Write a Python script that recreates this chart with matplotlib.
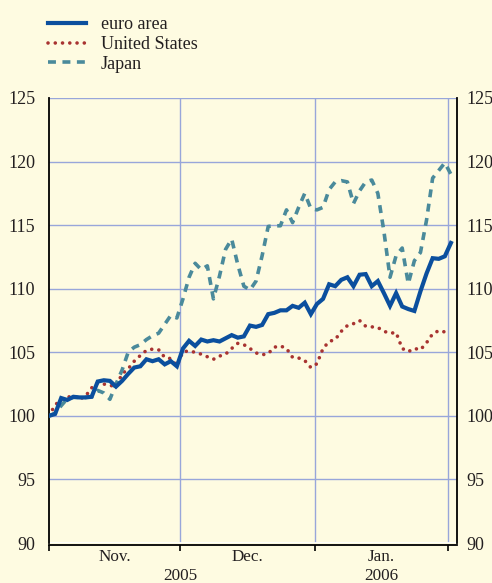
import matplotlib
matplotlib.use("Agg")
import matplotlib.pyplot as plt
import matplotlib.transforms as mtransforms
import numpy as np

# daily (business-day) index values, 1 Nov 2005 = 100
euro_area = [
    100.0, 100.15, 101.4, 101.25, 101.5, 101.45, 101.45, 101.5, 102.7, 102.8,
    102.75, 102.3, 102.75, 103.3, 103.8, 103.9, 104.45, 104.3, 104.45, 104.05,
    104.3, 103.9, 105.3, 105.9, 105.5, 106.0, 105.85, 105.95, 105.85, 106.1,
    106.35, 106.15, 106.25, 107.1, 107.0, 107.15, 108.0, 108.1, 108.3, 108.3,
    108.65, 108.5, 108.9, 108.0, 108.8, 109.2, 110.35, 110.2, 110.7, 110.9,
    110.2, 111.1, 111.15, 110.2, 110.6, 109.65, 108.65, 109.65, 108.6, 108.4,
    108.25, 109.8, 111.2, 112.4, 112.35, 112.55, 113.6,
]
united_states = [
    100.0, 100.85, 101.3, 101.45, 101.6, 101.3, 101.55, 102.2, 102.6, 102.5,
    102.4, 102.3, 103.3, 103.7, 104.3, 104.75, 105.15, 105.25, 105.2, 104.6,
    104.5, 103.95, 105.05, 105.1, 105.0, 104.85, 104.65, 104.45, 104.7, 104.85,
    105.3, 105.7, 105.6, 105.3, 104.95, 104.8, 104.9, 105.4, 105.5, 105.3,
    104.6, 104.55, 104.35, 103.8, 104.1, 105.3, 105.85, 106.0, 106.65, 107.1,
    107.25, 107.5, 107.05, 107.0, 106.95, 106.65, 106.5, 106.55, 105.3, 105.05,
    105.3, 105.2, 105.75, 106.45, 106.7, 106.6, 106.55,
]
japan = [
    100.0, 100.2, 100.8, 101.35, 101.45, 101.45, 101.45, 101.5, 102.0, 101.8,
    101.3, 102.5, 103.6, 105.0, 105.4, 105.6, 106.0, 106.3, 106.5, 107.2,
    107.9, 107.7, 109.2, 110.9, 112.0, 111.5, 111.8, 109.2, 111.0, 113.1,
    113.9, 111.9, 110.2, 109.9, 110.6, 112.6, 114.9, 114.95, 114.95, 116.2,
    115.2, 116.4, 117.5, 116.3, 116.2, 116.4, 117.8, 118.4, 118.5, 118.4,
    116.7, 117.7, 118.4, 118.55, 117.5, 114.5, 110.9, 112.6, 113.2, 110.4,
    112.2, 112.85, 115.4, 118.7, 119.3, 119.9, 119.0,
]
series_labels = ["euro area", "United States", "Japan"]
month_labels = ["Nov.", "Dec.", "Jan."]
year_labels = ["2005", "2006"]
y_ticks = [90, 95, 100, 105, 110, 115, 120, 125]

BG = "#fefbe1"
GRID = "#98a6da"
TXT = "#231f20"
FS = 13
FSX = 12.3

plt.rcParams.update({
    "font.family": ["Liberation Serif", "DejaVu Serif"],
    "font.size": FS,
    "text.color": TXT,
})

fig = plt.figure(figsize=(4.92, 5.83), dpi=100, facecolor=BG)
ax = fig.add_axes([49 / 492, 40 / 583, 408 / 492, 445 / 583], facecolor=BG)

x = np.arange(len(euro_area))
month_edges = [0, 21.5, 43.6, 65.6]

ax.plot(x, euro_area, color="#0b4f9e", lw=3.0, solid_joinstyle="miter",
        label=series_labels[0], zorder=4)
ax.plot(x, united_states, color="#a83331", lw=2.6, linestyle=(0, (0.01, 2.0)),
        dash_capstyle="round", label=series_labels[1], zorder=3)
ax.plot(x, japan, color="#4a8a9b", lw=2.6, linestyle=(0, (2.2, 1.8)),
        dash_capstyle="butt", label=series_labels[2], zorder=3)

ax.set_xlim(0, 67)
ax.set_ylim(90, 125)

# grid
for yv in y_ticks[1:]:
    ax.axhline(yv, color=GRID, lw=1.0, zorder=1)
for xv in month_edges[1:]:
    ax.axvline(xv, color=GRID, lw=1.0, zorder=1)
ax.axhline(90, color="white", lw=2.0, zorder=2)

ax.spines["top"].set_visible(False)
for side in ["left", "right", "bottom"]:
    ax.spines[side].set_color("black")
    ax.spines[side].set_linewidth(1.3)
ax.spines["bottom"].set_position(("outward", 1.5))

ax.set_yticks(y_ticks)
ax.tick_params(axis="y", length=0, pad=10, labelsize=FS, labelcolor=TXT)

# right-hand labels
axr = ax.twinx()
axr.set_ylim(ax.get_ylim())
axr.set_yticks(y_ticks)
axr.tick_params(axis="y", length=0, pad=6.5, labelsize=FS, labelcolor=TXT)
for s in axr.spines.values():
    s.set_visible(False)
axr.patch.set_visible(False)

ax.set_xticks(month_edges)
ax.set_xticklabels([""] * len(month_edges))
ax.tick_params(axis="x", which="major", length=4, width=1.2, color="black",
               direction="out")
mid = [(month_edges[i] + month_edges[i + 1]) / 2 for i in range(3)]
ax.set_xticks(mid, minor=True)
ax.set_xticklabels(month_labels, minor=True)
ax.tick_params(axis="x", which="minor", length=0, pad=3, labelsize=FSX,
               labelcolor=TXT)

trans = mtransforms.blended_transform_factory(ax.transData, ax.transAxes)
year_y = -(580 - 543) / 445
ax.text(month_edges[1], year_y, year_labels[0], transform=trans,
        ha="center", va="baseline", fontsize=FSX)
ax.text(mid[2], year_y, year_labels[1], transform=trans,
        ha="center", va="baseline", fontsize=FSX)

leg = fig.legend(loc="upper left", bbox_to_anchor=(41 / 492, 1 - 9 / 583),
                 frameon=False, handlelength=2.1, handletextpad=0.8,
                 labelspacing=0.15, fontsize=FS, borderaxespad=0)
for txt in leg.get_texts():
    txt.set_color(TXT)

fig.savefig("out.png", dpi=100, facecolor=BG)
